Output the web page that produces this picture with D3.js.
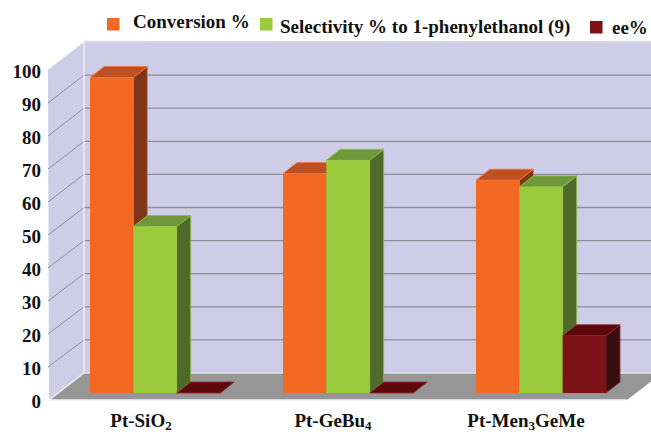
<!DOCTYPE html>
<html>
<head>
<meta charset="utf-8">
<script src="https://cdn.jsdelivr.net/npm/d3@7"></script>
<style>
  html, body { margin: 0; padding: 0; background: #fff; overflow: hidden; }
  text { font-family: "Liberation Serif", serif; font-weight: bold; fill: #111; }
</style>
</head>
<body>
<div id="canvas"></div>
<script>
"use strict"

let svgWidth = 651;
let svgHeight = 434;

// values
let categories = ["Pt-SiO2", "Pt-GeBu4", "Pt-Men3GeMe"];
let conversion = [95.3, 66.3, 64.3];
let selectivity = [50.3, 70.3, 62.3];
let ee = [0, 0, 17.3];
let yTicks = [0, 10, 20, 30, 40, 50, 60, 70, 80, 90, 100];

let seriesNames = ["Conversion %", "Selectivity % to 1-phenylethanol (9)", "ee%"];
let seriesValues = [conversion, selectivity, ee];
let frontColors = ["#f36822", "#9acb3c", "#7b1216"];
let topColors = ["#be4f25", "#6f983b", "#5e080b"];
let sideColors = ["#7f3518", "#4f6b2c", "#3a0e10"];
let edgeColors = ["#f47a3a", "#8fc23f", "#8e2a30"];

// the 3D box: back wall, front edge of the floor and the plane the bars stand on
let wallDepthX = 35;
let barDepthX = 14;
let barDepthY = 11;

let svg = d3.select("#canvas")
    .append("svg")
    .attr("width", svgWidth)
    .attr("height", svgHeight)
    .style("display", "block");

let yBack = d3.scaleLinear().domain([0, 100]).range([373, 42]);
let yFront = d3.scaleLinear().domain([0, 100]).range([400, 70]);
let yBar = d3.scaleLinear().domain([0, 100]).range([393, 62]);

let xGroup = d3.scaleBand()
    .domain(categories)
    .range([42, 621])
    .paddingInner(0)
    .paddingOuter(0);

let xSeries = d3.scaleBand()
    .domain(d3.range(seriesNames.length))
    .range([48, 178]);

let leftFront = 49;
let leftBack = leftFront + wallDepthX;

/* Walls and floor */
svg.append("rect")
    .attr("x", leftBack)
    .attr("y", yBack(100))
    .attr("width", svgWidth - leftBack)
    .attr("height", yBack(0) - yBack(100))
    .attr("fill", "#cfcce8");

svg.append("polygon")
    .attr("points", [[leftFront - 1, yFront(100)], [leftBack, yBack(100)], [leftBack, yBack(0)], [leftFront, yFront(0)]].join(" "))
    .attr("fill", "#cfcce8");

/* Grid lines, running along the back wall and down the left wall */
let gridValues = yTicks.filter(function (value) { return value > 0 && value < 100; });

svg.selectAll(".grid-back")
    .data(gridValues)
    .join("line")
    .attr("class", "grid-back")
    .attr("x1", leftBack)
    .attr("x2", svgWidth)
    .attr("y1", function (value) { return yBack(value); })
    .attr("y2", function (value) { return yBack(value); })
    .attr("stroke", "#8f8e98")
    .attr("stroke-width", 1.3);

svg.selectAll(".grid-left")
    .data(gridValues)
    .join("line")
    .attr("class", "grid-left")
    .attr("x1", leftFront - 1)
    .attr("x2", leftBack)
    .attr("y1", function (value) { return yFront(value); })
    .attr("y2", function (value) { return yBack(value); })
    .attr("stroke", "#8f8e98")
    .attr("stroke-width", 1);

svg.append("polygon")
    .attr("points", [[leftFront, yFront(0)], [leftBack, yBack(0)], [svgWidth + 11, yBack(0)], [627, yFront(0)]].join(" "))
    .attr("fill", "#969696");

/* Light edges of the box */
svg.append("line")
    .attr("x1", leftBack).attr("x2", svgWidth)
    .attr("y1", yBack(0)).attr("y2", yBack(0))
    .attr("stroke", "#e2e2e2").attr("stroke-width", 1.5);

svg.append("line")
    .attr("x1", leftBack).attr("x2", svgWidth)
    .attr("y1", yBack(100) - 0.5).attr("y2", yBack(100) - 0.5)
    .attr("stroke", "#dcdcdc").attr("stroke-width", 1.5);

svg.append("line")
    .attr("x1", 145).attr("x2", 608)
    .attr("y1", yBack(100) - 1.5).attr("y2", yBack(100) - 1.5)
    .attr("stroke", "#ffffff").attr("stroke-width", 1);

svg.append("path")
    .attr("d", d3.line()([[leftFront - 1, yFront(100)], [leftBack, yBack(100)]]))
    .attr("stroke", "#e4e4e4").attr("fill", "none");

svg.append("path")
    .attr("d", d3.line()([[leftBack, yBack(100)], [leftBack, yBack(0)], [leftFront, yFront(0)], [627, yFront(0)]]))
    .attr("stroke", "#f4f4f4").attr("fill", "none").attr("stroke-width", 1.3);

/* Bars: front, top and side faces, series after series so later bars cover earlier ones */
categories.forEach(function (category, c) {
    seriesValues.forEach(function (values, s) {
        let x0 = xGroup(category) + xSeries(s);
        let x1 = x0 + xSeries.bandwidth();
        let yTop = yBar(values[c]);
        let yBase = yBar(0);
        let g = svg.append("g")
            .attr("stroke", edgeColors[s])
            .attr("stroke-width", 0.8)
            .attr("stroke-linejoin", "round");

        g.append("polygon")
            .attr("points", [[x1, yTop], [x1 + barDepthX, yTop - barDepthY], [x1 + barDepthX, yBase - barDepthY], [x1, yBase]].join(" "))
            .attr("fill", sideColors[s]);
        g.append("polygon")
            .attr("points", [[x0, yTop], [x0 + barDepthX, yTop - barDepthY], [x1 + barDepthX, yTop - barDepthY], [x1, yTop]].join(" "))
            .attr("fill", topColors[s]);
        g.append("rect")
            .attr("x", x0)
            .attr("y", yTop)
            .attr("width", x1 - x0)
            .attr("height", yBase - yTop)
            .attr("fill", frontColors[s])
            .attr("stroke", "none");
    });
});

/* Y axis labels */
let yAxis = svg.append("g")
    .attr("transform", "translate(41,0)")
    .call(d3.axisLeft(yFront).tickValues(yTicks).tickSize(0).tickPadding(0));

yAxis.select(".domain").remove();
yAxis.selectAll("text")
    .attr("x", 0)
    .attr("y", 1)
    .style("font-family", '"Liberation Serif", serif')
    .style("font-weight", "bold")
    .style("font-size", "19px");

/* Category labels, digits set as subscripts */
let labelCenters = [141, 333, 526];

categories.forEach(function (category, c) {
    let label = svg.append("text")
        .attr("x", labelCenters[c])
        .attr("y", 430)
        .attr("text-anchor", "middle")
        .style("font-size", "19px");
    category.split(/(\d)/).forEach(function (part) {
        if (part === "") {
            return;
        }
        let isDigit = /\d/.test(part);
        label.append("tspan")
            .style("font-size", isDigit ? "13px" : "19px")
            .attr("dy", isDigit ? 3 : (label.selectAll("tspan").size() > 0 ? -3 : 0))
            .text(part);
    });
});

/* Legend */
let legendSwatchX = [107, 260, 590];
let legendSwatchY = [18, 18, 21];
let legendTextX = [133, 280, 612];
let legendTextY = [28, 33, 34];
let legendTextSize = [19, 19, 19];

seriesNames.forEach(function (name, s) {
    svg.append("rect")
        .attr("x", legendSwatchX[s])
        .attr("y", legendSwatchY[s])
        .attr("width", 12.5)
        .attr("height", 12.5)
        .attr("fill", frontColors[s]);

    svg.append("text")
        .attr("x", legendTextX[s])
        .attr("y", legendTextY[s])
        .style("font-size", legendTextSize[s] + "px")
        .text(name);
});
</script>
</body>
</html>
